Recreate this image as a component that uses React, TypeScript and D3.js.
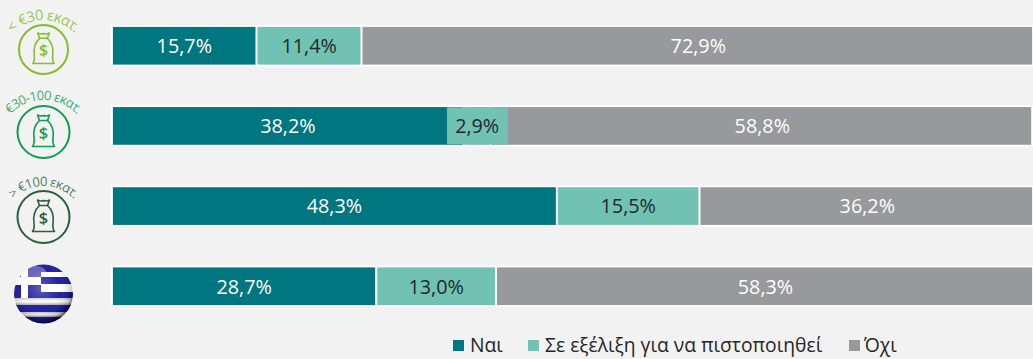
import React from "react";
import * as d3 from "d3";

const rows = ["lt30", "30to100", "gt100", "gr"];
const yes = [15.7, 38.2, 48.3, 28.7];
const progress = [11.4, 2.9, 15.5, 13.0];
const no = [72.9, 58.8, 36.2, 58.3];
const seriesNames = ["Ναι", "Σε εξέλιξη για να πιστοποιηθεί", "Όχι"];
const colors = ["#007681", "#71c2b3", "#97999c"];
const iconLabels = ["< €30 εκατ.", "€30-100 εκατ.", "> €100 εκατ."];
const iconColors = ["#84bd2d", "#0f9d4e", "#2c5e3c"];
const FONT = "'Open Sans', sans-serif";

const fmt = (v: number) => v.toFixed(1).replace(".", ",") + "%";

function Icon({ cx, cy, r, color, label, baseY, arcR, size, spacing, scale }: any) {
  const id = "arc" + label.replace(/[^0-9]/g, "");
  const acy = baseY + arcR;
  const a = (80 * Math.PI) / 180;
  const x0 = cx - arcR * Math.sin(a), y0 = acy - arcR * Math.cos(a);
  const x1 = cx + arcR * Math.sin(a), y1 = acy - arcR * Math.cos(a);
  return (
    <g>
      <defs>
        <path id={id} d={`M${x0},${y0} A${arcR},${arcR} 0 0 1 ${x1},${y1}`} />
      </defs>
      <text fontFamily={FONT} fontSize={size} letterSpacing={spacing} fill={color} fillOpacity={0.85} textAnchor="middle">
        <textPath href={`#${id}`} startOffset="50%">{label}</textPath>
      </text>
      <circle cx={cx} cy={cy} r={r} fill="none" stroke={color} strokeWidth={2} />
      <g transform={`translate(${cx},${cy}) scale(${scale})`} fill="none" stroke={color} strokeWidth={1.6} strokeLinejoin="round" strokeLinecap="round">
        <path d="M-6,-17 C-3,-15.5 -2,-15.5 0,-16.5 C2,-15.5 3,-15.5 6,-17 L4,-11.5 L-4,-11.5 Z" />
        <path d="M-4,-11.5 C-9,-7 -10.5,-1 -9.5,6 C-9,10 -9.5,12.5 -11,14.5 L11,14.5 C9.5,12.5 9,10 9.5,6 C10.5,-1 9,-7 4,-11.5" />
        <text x={0} y={7} textAnchor="middle" fontFamily={FONT} fontSize={16.5} fontWeight={600} fill={color} stroke="none">$</text>
      </g>
    </g>
  );
}

export default function App() {
  const W = 1033, H = 359;
  const x = d3.scaleLinear().domain([0, 100]).range([112, 1033]);
  const y = d3.scalePoint<string>().domain(rows).range([26, 266.5]);
  const barH = 39.5;
  const stack = d3.stack<number>().keys(["0", "1", "2"]).value((i, k) => [yes, progress, no][+k][i]);
  const layers = stack(rows.map((_, i) => i));
  const flagCx = 43.5, flagCy = 294, flagR = 29.5;
  const blue = "#14149a";

  return (
    <svg width={W} height={H} style={{ position: "absolute", left: 0, top: 0, background: "#f2f2f2" }}>
      <defs>
        <radialGradient id="shine" cx="45%" cy="40%" r="62%">
          <stop offset="0%" stopColor="#fff" stopOpacity={0.3} />
          <stop offset="55%" stopColor="#fff" stopOpacity={0.05} />
          <stop offset="85%" stopColor="#000" stopOpacity={0.2} />
          <stop offset="100%" stopColor="#000" stopOpacity={0.8} />
        </radialGradient>
        <linearGradient id="band" x1="0" y1="0" x2="0" y2="1">
          <stop offset="0%" stopColor="#c8c8c8" />
          <stop offset="50%" stopColor="#ffffff" />
          <stop offset="100%" stopColor="#a8a8a8" />
        </linearGradient>
        <clipPath id="sphere"><circle cx={flagCx} cy={flagCy} r={flagR} /></clipPath>
        <filter id="soft"><feGaussianBlur stdDeviation="0.5" /></filter>
      </defs>
      <rect width={W} height={H} fill="#f2f2f2" />

      {layers.map((layer, s) =>
        layer.map((d, i) => (
          <rect key={`${s}-${i}`} x={x(d[0])} y={y(rows[i])} width={x(d[1]) - x(d[0])} height={barH}
            fill={colors[s]} stroke="#ffffff" strokeWidth={1.8} />
        ))
      )}
      {/* label box of the narrow segment */}
      <rect x={447} y={y(rows[1])! + 1.2} width={61} height={37} fill={colors[1]} />
      {layers.map((layer, s) =>
        layer.map((d, i) => (
          <text key={`t${s}-${i}`} x={(x(d[0]) + x(d[1])) / 2 + (s === 2 ? 1 : 0)} y={y(rows[i])! + barH / 2 + 7.3}
            textAnchor="middle" fontFamily={FONT} fontSize={19.8}
            fill={s === 1 ? "#1f2a2c" : "#ffffff"}>{fmt([yes, progress, no][s][i])}</text>
        ))
      )}

      <Icon cx={43.5} cy={49.5} r={24.5} color={iconColors[0]} label={iconLabels[0]} baseY={20} arcR={44} size={14.5} spacing={-0.5} scale={0.97} />
      <Icon cx={43.5} cy={132} r={26} color={iconColors[1]} label={iconLabels[1]} baseY={100} arcR={46} size={13} spacing={-0.65} scale={1} />
      <Icon cx={43.5} cy={217} r={26} color={iconColors[2]} label={iconLabels[2]} baseY={186} arcR={42} size={13} spacing={-0.6} scale={1} />

      <g clipPath="url(#sphere)">
        <rect x={flagCx - flagR} y={flagCy - flagR} width={flagR * 2} height={flagR * 2} fill="#ffffff" />
        <g filter="url(#soft)">
          <rect x={14} y={264} width={60} height={8} fill={blue} />
          <rect x={41} y={277} width={33} height={7} fill={blue} />
          <rect x={41} y={292} width={33} height={6} fill={blue} />
          <rect x={14} y={305} width={60} height={7} fill={blue} />
          <rect x={14} y={317} width={60} height={7} fill={blue} />
          <rect x={14} y={270} width={27} height={28} fill={blue} />
          <rect x={21} y={268} width={7} height={30} fill="#ffffff" />
          <rect x={14} y={277} width={27} height={8} fill="#ffffff" />
          <rect x={14} y={298} width={60} height={7} fill="url(#band)" />
          <rect x={14} y={312} width={60} height={5} fill="url(#band)" />
        </g>
        <ellipse cx={30} cy={272} rx={16} ry={7} fill="#fff" fillOpacity={0.3} />
        <circle cx={flagCx} cy={flagCy} r={flagR} fill="url(#shine)" />
      </g>

      <g fontFamily={FONT} fontSize={19.3} fill="#262626">
        <rect x={453} y={340} width={11} height={11} fill={colors[0]} />
        <text x={470} y={352}>{seriesNames[0]}</text>
        <rect x={528} y={340} width={11} height={11} fill={colors[1]} />
        <text x={545} y={352}>{seriesNames[1]}</text>
        <rect x={849} y={340} width={11} height={11} fill={colors[2]} />
        <text x={864} y={352}>{seriesNames[2]}</text>
      </g>
    </svg>
  );
}
